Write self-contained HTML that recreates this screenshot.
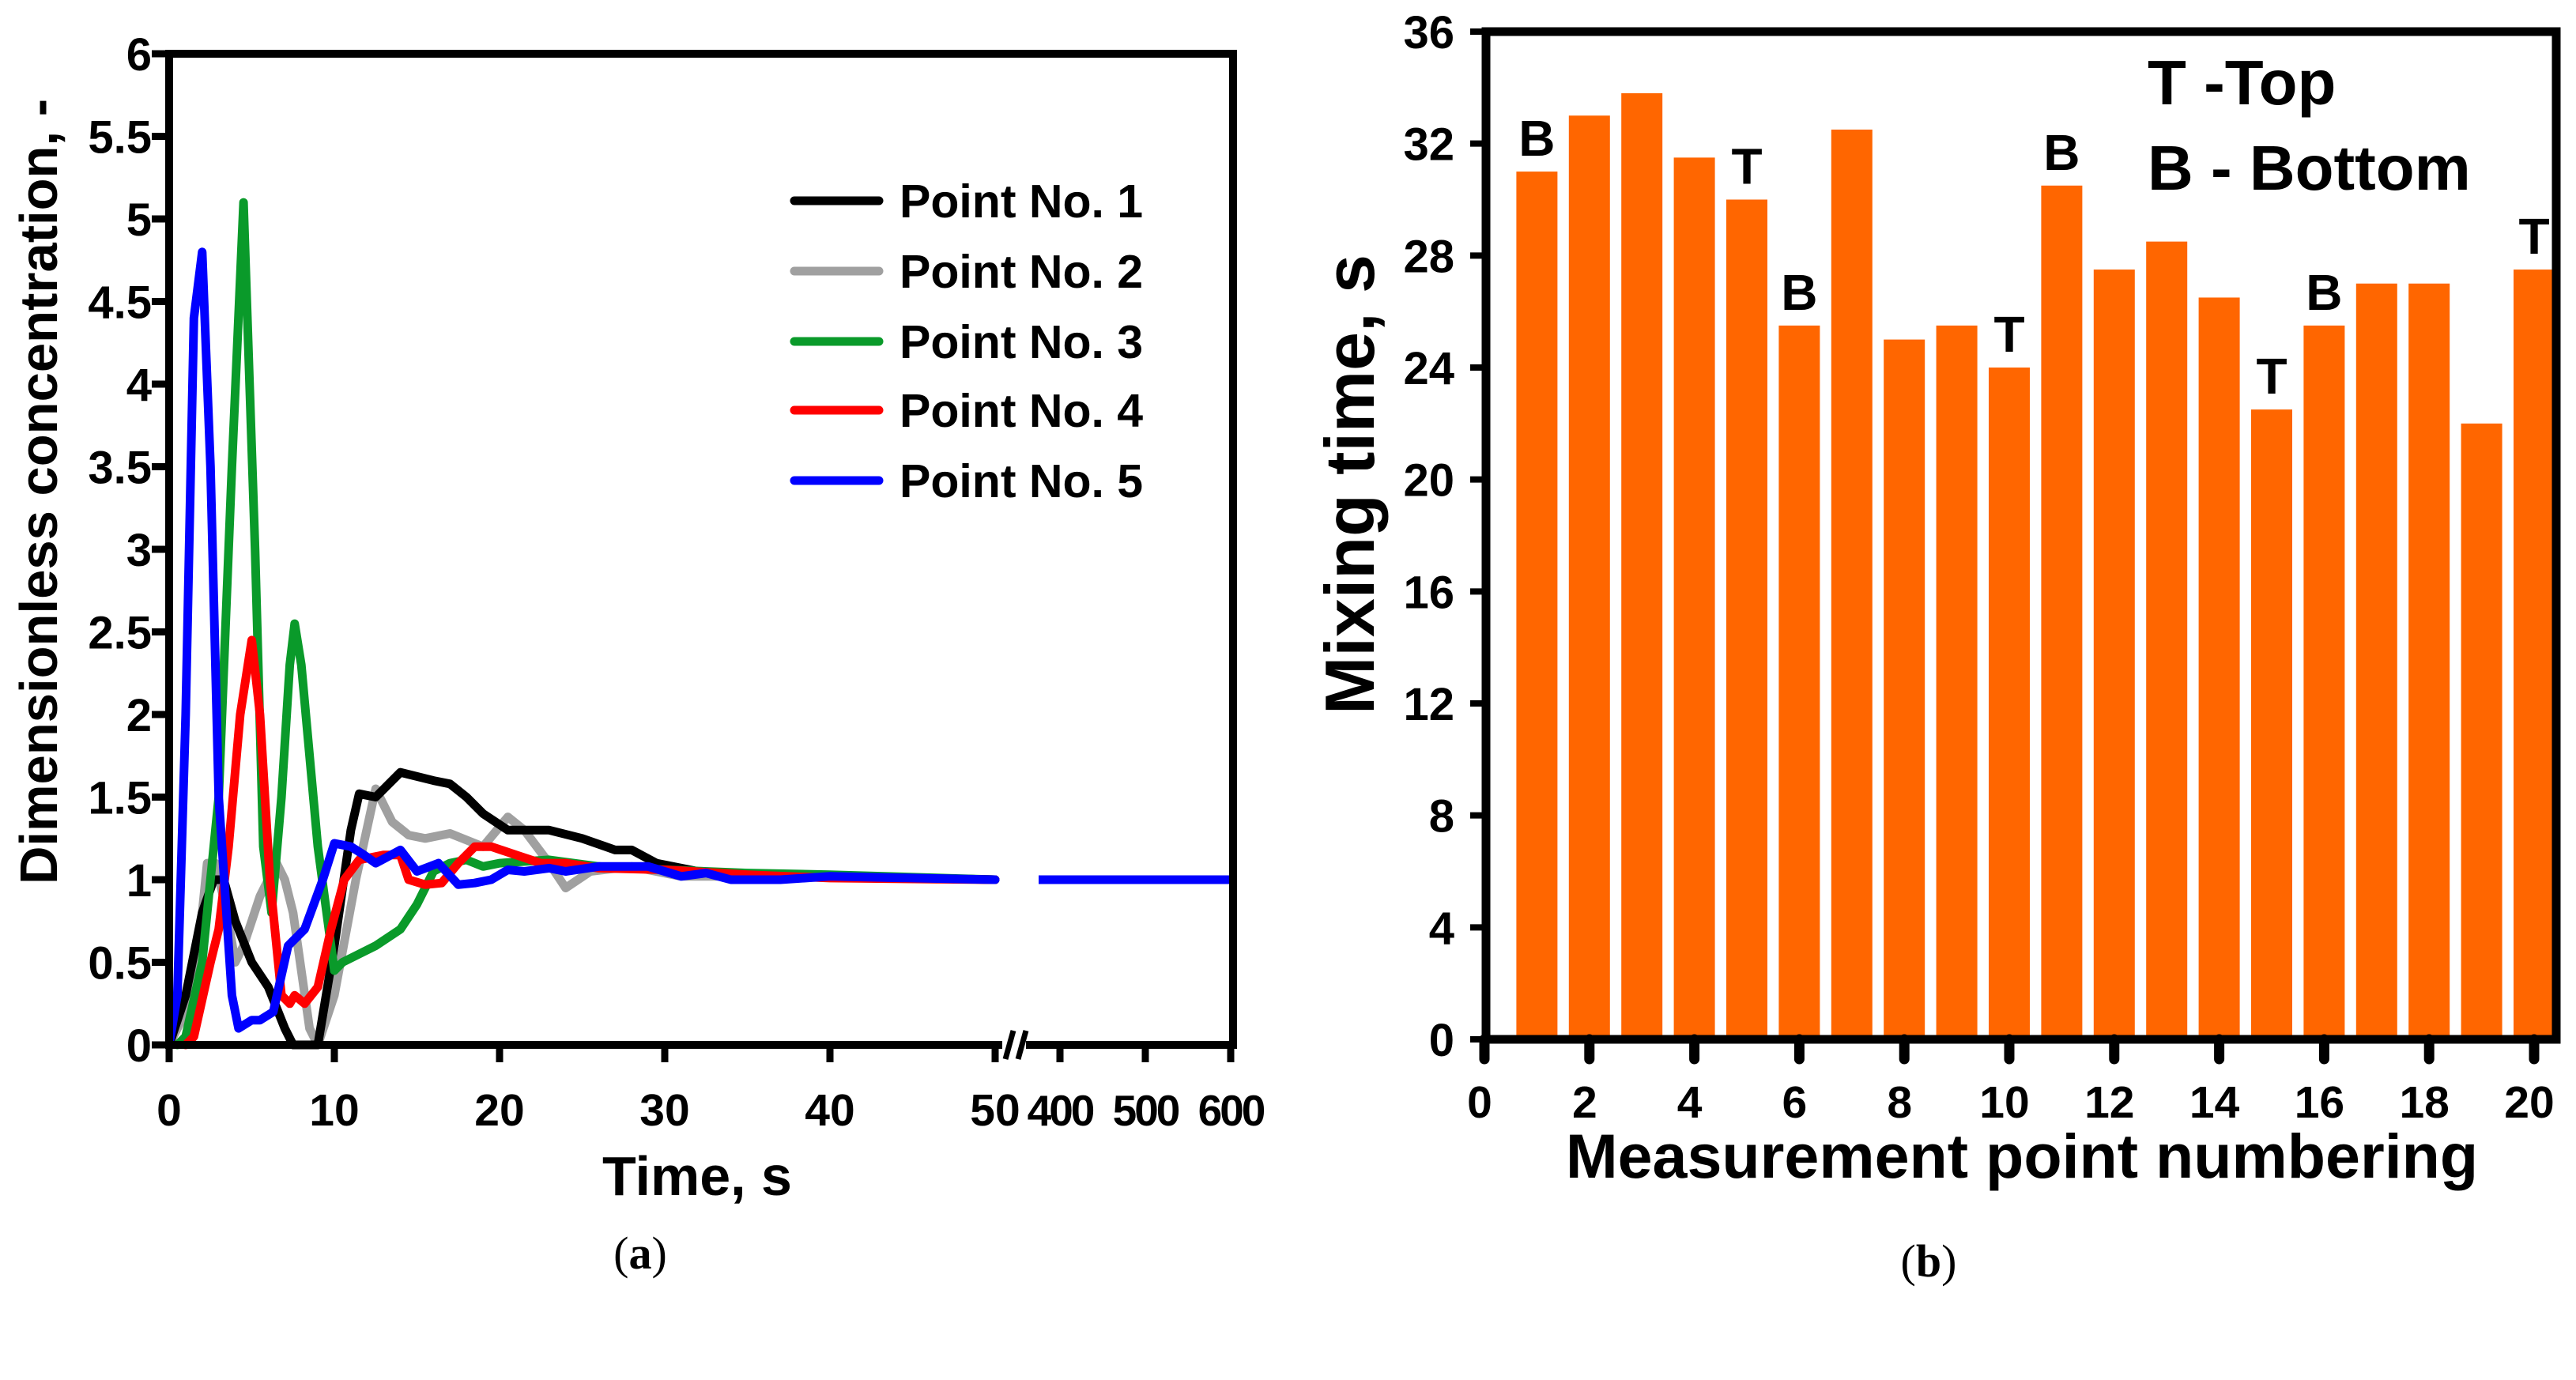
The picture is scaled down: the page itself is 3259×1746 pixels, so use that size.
<!DOCTYPE html>
<html><head><meta charset="utf-8"><style>
html,body{margin:0;padding:0;background:#fff}
svg{display:block}
text{font-family:"Liberation Sans",sans-serif;font-weight:bold;fill:#000}
</style></head><body>
<svg id="fig" width="3259" height="1746" viewBox="0 0 3259 1746" xmlns="http://www.w3.org/2000/svg">
<g id="chartA"></g>
<g id="chartB"></g>
<text x="810" y="1605" font-size="58" text-anchor="middle" style="font-family:'Liberation Serif',serif;font-weight:normal">(<tspan font-weight="bold">a</tspan>)</text>
<text x="2440" y="1615" font-size="58" text-anchor="middle" style="font-family:'Liberation Serif',serif;font-weight:normal">(<tspan font-weight="bold">b</tspan>)</text>
</svg>
<script>
// ---- Chart A data ----
const seriesNames = ["Point No. 1","Point No. 2","Point No. 3","Point No. 4","Point No. 5"];
const seriesColors = ["#000000","#a0a0a0","#0a9a2a","#ff0000","#0000ff"];
const p1T = [0,1,2,2.7,3.3,4,5,6,7,7.5,8.5,9,10,11,11.5,12.5,14,16,17,18,19,20.5,22,23,25,27,28,29.5,32,35,40,45,50];
const p1C = [0,0.3,0.8,1.0,1.0,0.75,0.5,0.35,0.1,0,0,0,0.6,1.3,1.52,1.5,1.65,1.6,1.58,1.5,1.4,1.3,1.3,1.3,1.25,1.18,1.18,1.1,1.05,1.03,1.02,1.01,1];
const p2T = [0,1,2,2.3,2.8,3.5,4,4.5,5.5,6.5,7,7.5,8.5,9,10,11.3,12.5,13.5,14.5,15.5,17,19,20.5,21.5,23,24,25.5,28,31,40,50];
const p2C = [0,0.2,0.8,1.1,1.1,0.8,0.5,0.6,0.9,1.1,1.0,0.8,0.1,0,0.3,1.0,1.55,1.35,1.27,1.25,1.28,1.2,1.38,1.3,1.1,0.95,1.05,1.08,1.02,1.02,1];
const p3T = [0.5,1,2,3,3.8,4.5,5.2,5.7,6.2,6.8,7.3,7.6,8,9,10,10.5,11.5,12.5,14,15,16,17,18,19,20,23,26,30,35,40,50];
const p3C = [0,0.05,0.5,1.5,3.5,5.1,3,1.2,0.8,1.5,2.3,2.55,2.3,1.2,0.45,0.5,0.55,0.6,0.7,0.85,1.05,1.1,1.12,1.08,1.1,1.12,1.08,1.06,1.04,1.03,1];
const p4T = [1,1.5,2.5,3,3.6,4.3,5,5.5,6.1,6.8,7.3,7.6,8.2,9,9.8,10.6,11.5,13,14,14.5,15.5,16.5,17.5,18.5,19.5,21,22.5,24,26,30,35,40,50];
const p4C = [0,0.05,0.5,0.7,1.2,2.0,2.45,2.0,1.0,0.3,0.25,0.3,0.25,0.35,0.7,1.0,1.12,1.15,1.15,1.0,0.97,0.98,1.1,1.2,1.2,1.15,1.1,1.1,1.07,1.06,1.03,1.01,1];
const p5T = [0,0.5,1,1.5,2,2.5,3,3.8,4.2,5,5.5,6.3,7.2,8.2,9.3,10,11,11.8,12.5,14,15,16.3,17.5,18.5,19.5,20.5,21.5,23,24,26,29,31,32.5,34,37,40,45,50];
const p5C = [0,0.3,2,4.4,4.8,3.5,1.5,0.3,0.1,0.15,0.15,0.2,0.6,0.7,1.0,1.22,1.2,1.15,1.1,1.18,1.05,1.1,0.97,0.98,1.0,1.06,1.05,1.07,1.05,1.08,1.08,1.02,1.04,1.0,1.0,1.02,1.01,1];
const tailT = [375,600];
const tailC = [1,1];
const aYTicks = ["0","0.5","1","1.5","2","2.5","3","3.5","4","4.5","5","5.5","6"];
const aXTicks1 = [0,10,20,30,40,50];
const aXTicks2 = [400,500,600];
// ---- Chart B data ----
const bCats = [1,2,3,4,5,6,7,8,9,10,11,12,13,14,15,16,17,18,19,20];
const bVals = [31,33,33.8,31.5,30,25.5,32.5,25,25.5,24,30.5,27.5,28.5,26.5,22.5,25.5,27,27,22,27.5];
const bTags = ["B","","","","T","B","","","","T","B","","","","T","B","","","","T"];
const bYTicks = [0,4,8,12,16,20,24,28,32,36];
const bXTicks = [0,2,4,6,8,10,12,14,16,18,20];

const NS="http://www.w3.org/2000/svg";
function mk(parent,tag,attrs){const e=document.createElementNS(NS,tag);for(const k in attrs)e.setAttribute(k,attrs[k]);parent.appendChild(e);return e;}

// ---- Chart A ----
const A=document.getElementById('chartA');
const ax0=214, ayTop=68, ay0=1322, aRight=1560;
const xA1=t=>ax0+t*20.9;
const xA2=t=>1341+(t-400)*1.08;
const yA=c=>ay0-(c/6)*(ay0-ayTop);
const order=[1,0,2,3,4];
const allT=[p1T,p2T,p3T,p4T,p5T], allC=[p1C,p2C,p3C,p4C,p5C];
order.forEach(i=>{
  const d=allT[i].map((t,j)=>(j?'L':'M')+xA1(t).toFixed(1)+' '+yA(allC[i][j]).toFixed(1)).join(' ');
  const p=mk(A,'path',{d:d,fill:'none',stroke:seriesColors[i],'stroke-width':11,'stroke-linejoin':'round','stroke-linecap':'round'});
  
  
});
{
  const d=tailT.map((t,j)=>(j?'L':'M')+xA2(t).toFixed(1)+' '+yA(tailC[j]).toFixed(1)).join(' ');
  const p=mk(A,'path',{d:d,fill:'none',stroke:'#0000ff','stroke-width':11});
  
  
}
const fr=mk(A,'rect',{x:ax0,y:ayTop,width:aRight-ax0,height:ay0-ayTop,fill:'none',stroke:'#000','stroke-width':10});


const brk=mk(A,'rect',{x:1268,y:ay0-20,width:30,height:40,fill:'#fff'});


[1272,1288].forEach(x=>{const l=mk(A,'line',{x1:x,y1:ay0+18,x2:x+10,y2:ay0-18,stroke:'#000','stroke-width':7});
  });
aYTicks.forEach((lab,i)=>{
  const y=yA(i*0.5);
  const l=mk(A,'line',{x1:ax0-22,y1:y,x2:ax0,y2:y,stroke:'#000','stroke-width':9});
  
  const t=mk(A,'text',{x:ax0-22,y:y+21,'font-size':58,'text-anchor':'end'});t.textContent=lab;
  
});
aXTicks1.forEach(v=>{const x=xA1(v);
  const l=mk(A,'line',{x1:x,y1:ay0,x2:x,y2:ay0+22,stroke:'#000','stroke-width':9});
  
  const t=mk(A,'text',{x:x,y:ay0+102,'font-size':57,'text-anchor':'middle'});t.textContent=v;
  });
aXTicks2.forEach(v=>{const x=xA2(v);
  const l=mk(A,'line',{x1:x,y1:ay0,x2:x,y2:ay0+22,stroke:'#000','stroke-width':9});
  
  const t=mk(A,'text',{x:x,y:ay0+102,'font-size':55,'text-anchor':'middle','letter-spacing':-3});t.textContent=v;
  });
{const t=mk(A,'text',{x:882,y:1512,'font-size':70,'text-anchor':'middle'});t.textContent='Time, s';
 
 const t2=mk(A,'text',{x:0,y:0,'font-size':67,'text-anchor':'middle',transform:'translate(72,622) rotate(-90)'});t2.textContent='Dimensionless concentration, -';
 }
const legY=[254,343,432,519,608];
seriesNames.forEach((n,i)=>{
  const l=mk(A,'line',{x1:1005,y1:legY[i],x2:1112,y2:legY[i],stroke:seriesColors[i],'stroke-width':11,'stroke-linecap':'round'});
  
  const t=mk(A,'text',{x:1138,y:legY[i]+21,'font-size':59});t.textContent=n;
  
});

// ---- Chart B ----
const B=document.getElementById('chartB');
const bx0=1880, byTop=40, by0=1315, bRight=3234;
const xB=v=>1878+v*66.4;
const yB=v=>by0-(v/36)*(by0-byTop);
bCats.forEach((c,i)=>{
  const r=mk(B,'rect',{x:xB(c)-26,y:yB(bVals[i]),width:52,height:by0-yB(bVals[i]),fill:'#ff6600'});
  
  if(bTags[i]){const t=mk(B,'text',{x:xB(c),y:yB(bVals[i])-20,'font-size':64,'text-anchor':'middle'});t.textContent=bTags[i];
    }
});
const fb=mk(B,'path',{d:`M${bx0} ${by0} V${byTop} H${bRight} V${by0} H${bx0}`,fill:'none',stroke:'#000','stroke-width':11});

bYTicks.forEach(v=>{const y=yB(v);
  const l=mk(B,'line',{x1:bx0-20,y1:y,x2:bx0,y2:y,stroke:'#000','stroke-width':8});
  
  const t=mk(B,'text',{x:bx0-40,y:y+21,'font-size':58,'text-anchor':'end'});t.textContent=v;
  });
bXTicks.forEach(v=>{const x=xB(v);
  const l=mk(B,'line',{x1:x,y1:by0,x2:x,y2:by0+25,stroke:'#000','stroke-width':13,'stroke-linecap':'round'});
  
  const t=mk(B,'text',{x:x-6,y:by0+99,'font-size':57,'text-anchor':'middle'});t.textContent=v;
  });
{const t=mk(B,'text',{x:2558,y:1490,'font-size':79,'text-anchor':'middle'});t.textContent='Measurement point numbering';
 
 const t2=mk(B,'text',{x:0,y:0,'font-size':88,'text-anchor':'middle',transform:'translate(1738,613) rotate(-90)'});t2.textContent='Mixing time, s';
 
 const k1=mk(B,'text',{x:2717,y:132,'font-size':80});k1.textContent='T -Top';
 
 const k2=mk(B,'text',{x:2717,y:240,'font-size':80});k2.textContent='B - Bottom';
 }
</script>
</body></html>
